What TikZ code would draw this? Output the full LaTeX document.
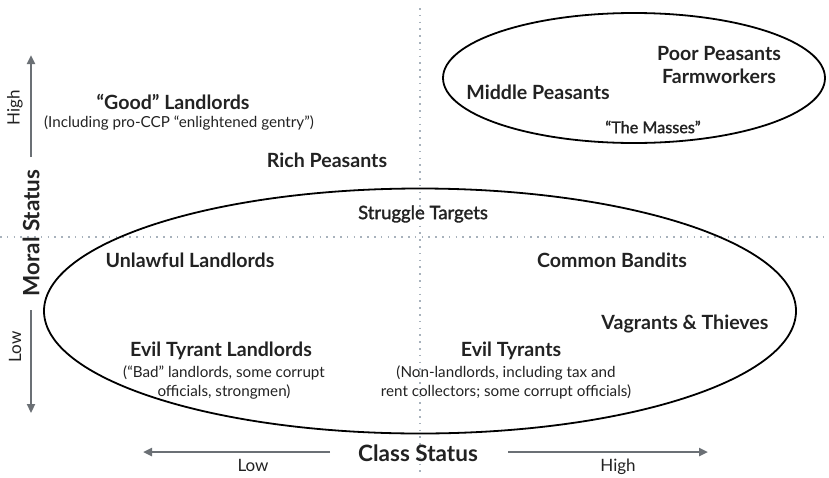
\documentclass[tikz,border=0pt]{standalone}
\usepackage{fontspec}
\setmainfont{Lato}
\newfontfamily\medfont[FakeBold=1.6]{Lato}
\usetikzlibrary{arrows.meta,shapes.geometric}
\definecolor{txt}{HTML}{222222}
\definecolor{axis}{HTML}{6B7075}
\definecolor{dots}{HTML}{A8B2BC}
\begin{document}
\begin{tikzpicture}[x=1pt,y=-1pt,
  lbl/.style={font=\bfseries\fontsize{19.6}{22}\selectfont, text=txt, inner sep=0pt},
  sub/.style={font=\fontsize{15.2}{19.5}\selectfont, text=txt, align=center, inner sep=0pt},
  mid/.style={font=\medfont\fontsize{18.5}{20}\selectfont, text=txt, inner sep=0pt},
  axlbl/.style={font=\bfseries\fontsize{22.5}{24}\selectfont, text=txt, inner sep=0pt},
  axsm/.style={font=\fontsize{17}{18}\selectfont, text=txt, inner sep=0pt},
  gridline/.style={draw=dots, line width=1.6pt, dash pattern=on 1.6pt off 5.2pt},
  axarrow/.style={draw=axis, line width=2.4pt, -{Triangle[length=9pt,width=8pt]}},
  ring/.style={draw=black, line width=1.8pt, ellipse, inner sep=0pt}
]
\useasboundingbox (0,0) rectangle (829,477);
% dotted quadrant lines
\coordinate (vtop) at (420,8);
\coordinate (vbot) at (420,472);
\coordinate (hl) at (0,237);
\coordinate (hr) at (829,237);
\draw[gridline] (vtop) -- (vbot);
\draw[gridline] (hl) -- (hr);
% ellipses
\node[ring, minimum width=382pt, minimum height=130pt] (masses) at (634,78) {};
\node[ring, minimum width=752pt, minimum height=245pt] (targets) at (420,311) {};
% masses
\node[lbl, align=center] (poor) at (719,65) {Poor Peasants\\[1pt]Farmworkers};
\node[lbl] (middle) at (538,92) {Middle Peasants};
\node[mid, font=\medfont\fontsize{16.2}{18}\selectfont] (themasses) at (653,127) {“The Masses”};
% upper left
\node[lbl] (good) at (173,102) {“Good” Landlords};
\node[sub] (goodsub) at (179,123) {(Including pro-CCP “enlightened gentry”)};
\node[lbl] (rich) at (327,160) {Rich Peasants};
% struggle targets
\node[mid] (struggle) at (423,214) {Struggle Targets};
\node[lbl] (unlawful) at (190,260) {Unlawful Landlords};
\node[lbl] (bandits) at (612,260) {Common Bandits};
\node[lbl] (vagrants) at (685,324) {Vagrants \& Thieves};
\node[lbl] (etl) at (221,351) {Evil Tyrant Landlords};
\node[sub] (etlsub) at (224,382.5) {(“Bad” landlords, some corrupt\\officials, strongmen)};
\node[lbl] (et) at (511,351) {Evil Tyrants};
\node[sub] (etsub) at (506,382.5) {(Non-landlords, including tax and\\rent collectors; some corrupt officials)};
% moral axis
\node[axlbl, rotate=90] (moral) at (31,233) {Moral Status};
\coordinate (mhb) at (31,157);
\coordinate (mht) at (31,55);
\coordinate (mlt) at (31,310);
\coordinate (mlb) at (31,413);
\draw[axarrow] (mhb) -- (mht);
\draw[axarrow] (mlt) -- (mlb);
\node[axsm, rotate=90] (mhigh) at (15,108) {High};
\node[axsm, rotate=90] (mlow) at (15,347) {Low};
% class axis
\node[axlbl] (class) at (418,453) {Class Status};
\coordinate (cll) at (143,452);
\coordinate (clr) at (330,452);
\coordinate (chl) at (508,452);
\coordinate (chr) at (708,452);
\draw[axarrow] (clr) -- (cll);
\draw[axarrow] (chl) -- (chr);
\node[axsm] (clow) at (253,465) {Low};
\node[axsm] (chigh) at (618,467) {High};
\end{tikzpicture}
\end{document}
